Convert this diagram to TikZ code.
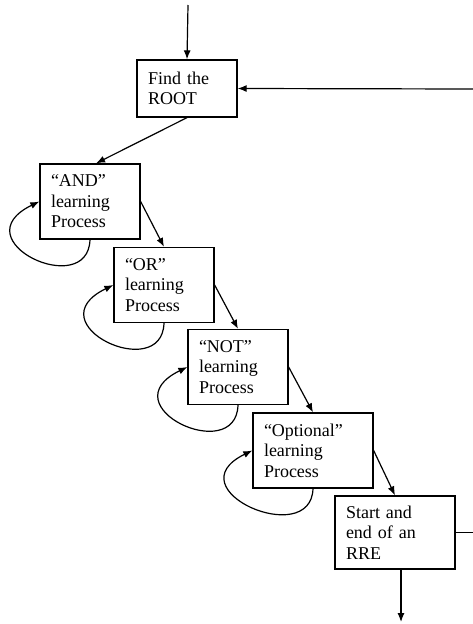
\documentclass[tikz,border=0pt]{standalone}
\usepackage{fontspec}
\setmainfont{Liberation Serif}
\usetikzlibrary{arrows.meta}

\tikzset{
  stage/.style={draw, line width=1.3pt, inner xsep=11pt, inner ysep=2pt,
    align=left, text width=78pt, minimum height=75pt,
    font=\fontsize{18}{20.5}\selectfont},
  wide/.style={text width=98pt}
}

\begin{document}
\begin{tikzpicture}[x=1pt, y=-1pt, line width=1.2pt,
    >={Latex[length=9pt,width=7pt]}]
  \useasboundingbox (0,0) rectangle (473,624);
  \node[stage, minimum height=57pt] (root) at (187,88.5) {Find the\\ROOT};
  \node[stage] (and) at (90,201.5) {“AND”\\learning\\Process};
  \node[stage] (or) at (164,285) {“OR”\\learning\\Process};
  \node[stage] (not) at (238,367) {“NOT”\\learning\\Process};
  \node[stage, wide] (opt) at (313,450.5) {“Optional”\\learning\\Process};
  \node[stage, wide, minimum height=73pt] (rre) at (395,532.5) {Start and\\end of an\\RRE};
  \coordinate (entry) at (188,5);
  \coordinate (loopin) at (473,89);
  \coordinate (loopout) at (473,532.5);
  \coordinate (exit) at (401,622);
  \begin{scope}[->]
    \draw (entry) -- (root.north);
    \draw (loopin) -- (root.east);
    \draw (root.south) -- ([xshift=6pt]and.north);
    \draw (and.east) -- (or.north);
    \draw (or.east) -- (not.north);
    \draw (not.east) -- (opt.north);
    \draw (opt.east) -- (rre.north);
    \draw ([xshift=6pt]rre.south) -- (exit);
    % self loops
    \foreach \n in {and,or,not,opt}
      \draw (\n.south) .. controls +(-2,61) and +(-80,39) .. (\n.west);
  \end{scope}
  \draw (rre.east) -- (loopout);
\end{tikzpicture}
\end{document}
